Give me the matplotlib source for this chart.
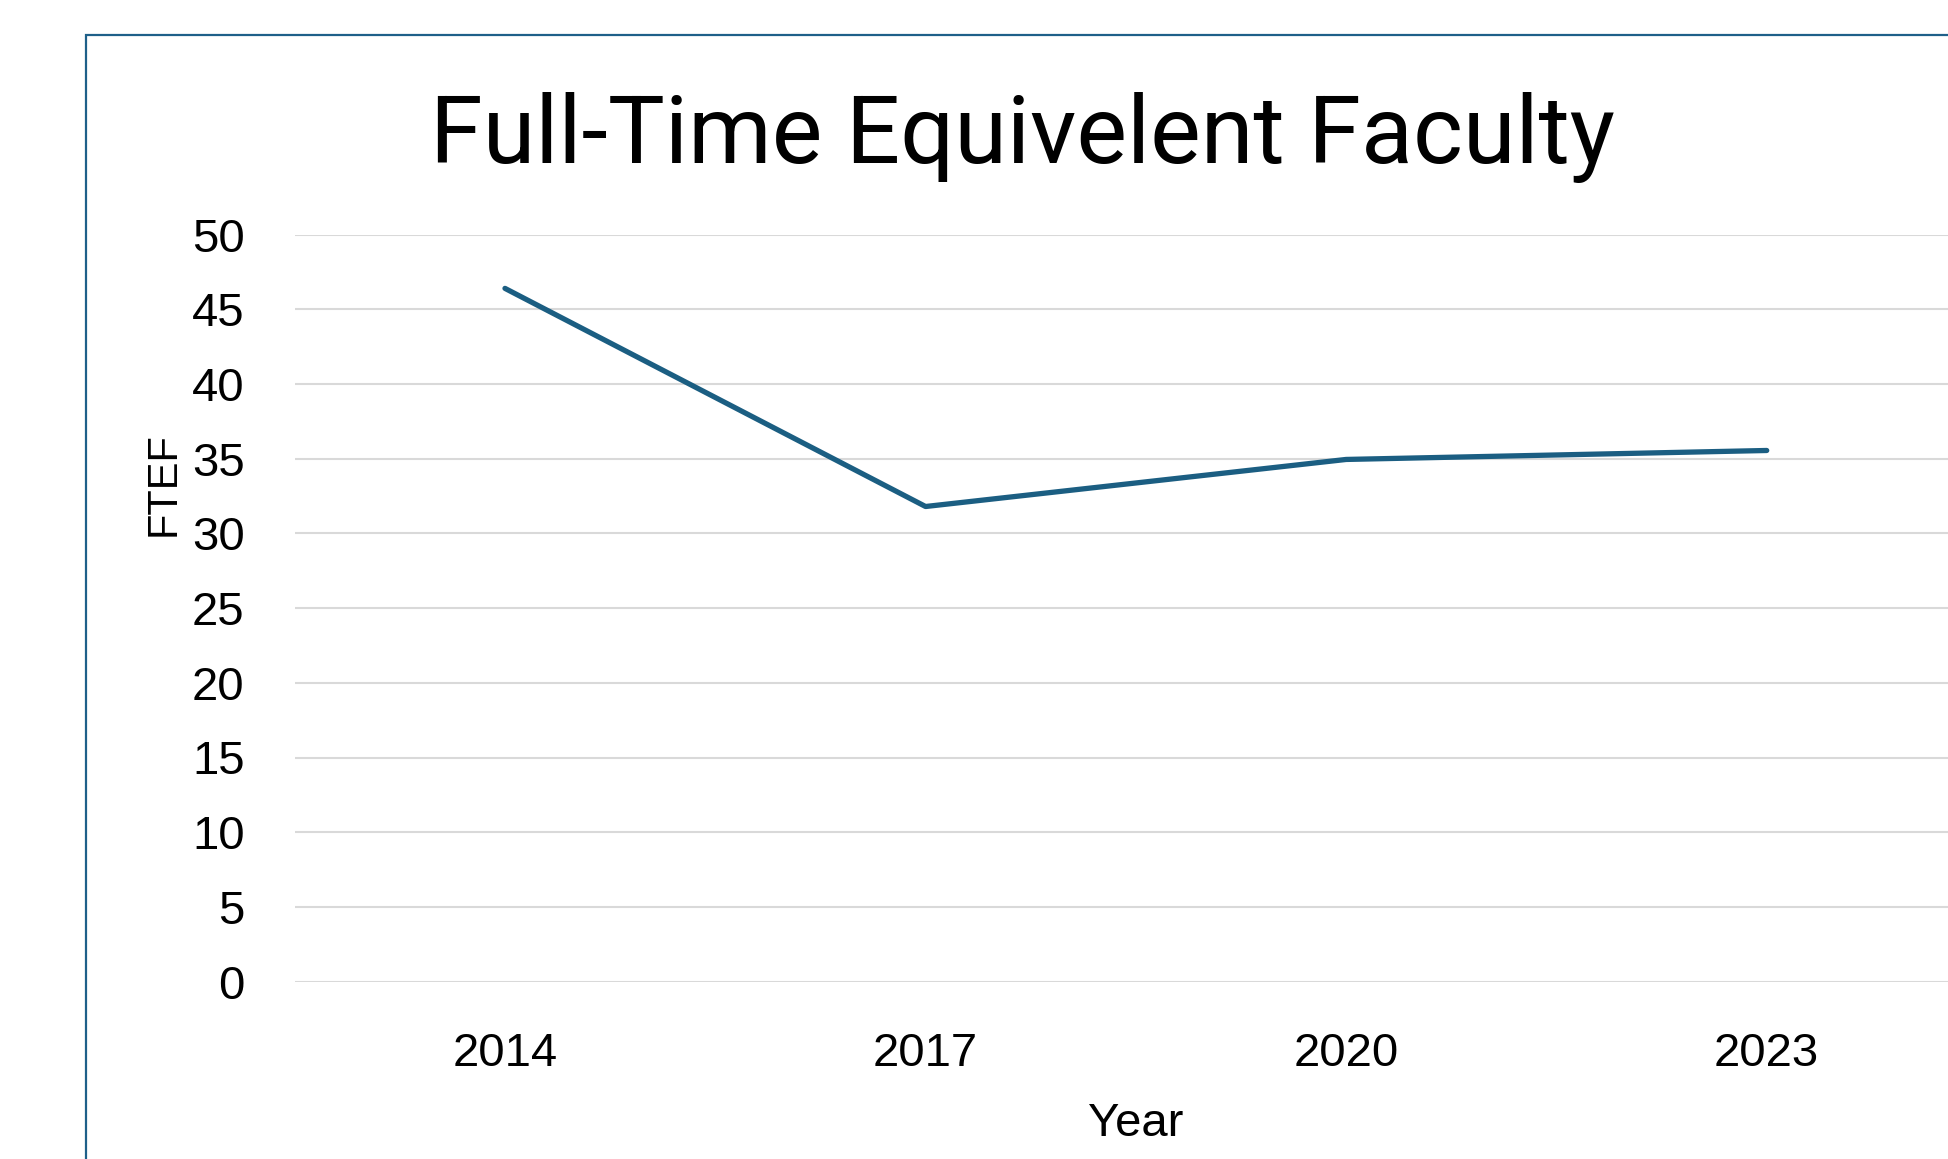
import matplotlib.pyplot as plt
from matplotlib.patches import Rectangle

# Données
years = ['2014', '2017', '2020', '2023']
ftef = [46.4, 31.8, 34.95, 35.55]
y_ticks = [0, 5, 10, 15, 20, 25, 30, 35, 40, 45, 50]

W, H = 1948, 1159

fig = plt.figure(figsize=(W / 100, H / 100), dpi=100)
fig.patch.set_facecolor('white')

# Cadre du graphique (coupé à droite et en bas)
frame = Rectangle((86 / W, -0.1), 2.0, (H - 35) / H + 0.1, transform=fig.transFigure,
                  fill=False, edgecolor='#1E6089', linewidth=1.6)
fig.add_artist(frame)

ax = fig.add_axes([294.7 / W, (H - 981.6) / H, (1977 - 294.7) / W, (981.6 - 234.6) / H])
ax.set_facecolor('none')

x = range(len(years))
ax.plot(x, ftef, color='#1B5E82', linewidth=3.8, solid_capstyle='round', solid_joinstyle='round', zorder=3)

ax.set_xlim(-0.5, len(years) - 0.5)
ax.set_ylim(0, 50)
ax.set_xticks(list(x))
ax.set_xticklabels(years)
ax.set_yticks(y_ticks)

for s in ax.spines.values():
    s.set_visible(False)
ax.yaxis.grid(True, color='#D9D9D9', linewidth=1.5)
ax.set_axisbelow(True)
ax.tick_params(axis='both', length=0, labelsize=34, labelcolor='black')
ax.tick_params(axis='y', pad=36)
ax.tick_params(axis='x', pad=36)
for lbl in ax.get_xticklabels() + ax.get_yticklabels():
    lbl.set_fontfamily('Liberation Sans')

ax.set_xlabel('Year', fontsize=34, family='Liberation Sans', labelpad=19)
ax.set_ylabel('FTEF', fontsize=30, family='Liberation Sans')
ax.yaxis.set_label_coords((184 - 294.7) / (1977 - 294.7), (981.6 - 484.5) / (981.6 - 234.6))

fig.text(1022 / W, (H - 162.7) / H, 'Full-Time Equivelent Faculty', ha='center', va='baseline',
         fontsize=68.7, family='Roboto', color='black')

fig.savefig('out.png', dpi=100)
